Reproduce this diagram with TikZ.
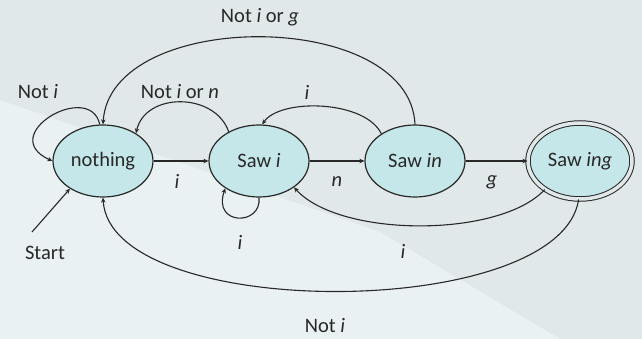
\documentclass[tikz,border=0pt]{standalone}
\usepackage{fontspec}
\setmainfont{Carlito}
\usetikzlibrary{arrows.meta,shapes.geometric}
\definecolor{bgc}{RGB}{225,232,234}
\definecolor{bgl}{RGB}{233,241,243}
\definecolor{nodefill}{RGB}{198,231,233}
\definecolor{ink}{RGB}{40,40,40}
\begin{document}
\begin{tikzpicture}[x=1pt,y=-1pt,
  every node/.style={font=\fontsize{20.5}{24}\selectfont, text=ink},
  state/.style={ellipse, draw=ink, line width=1.2pt, fill=nodefill, minimum width=100pt, minimum height=72pt, inner sep=0pt},
  final/.style={state, minimum width=104pt, minimum height=76pt, double=bgc, double distance=3.5pt, line width=1pt},
  edge/.style={draw=ink, line width=1.1pt, -{Stealth[length=5pt,width=4.5pt]}},
  lbl/.style={inner sep=1pt}]
\useasboundingbox (0,0) rectangle (642,339);
\fill[bgc] (0,0) rectangle (642,339);
\fill[bgl] (0,100) -- (380,232) -- (560,339) -- (0,339) -- cycle;
\node[state] (n0) at (103,161) {nothing};
\node[state] (n1) at (259,161) {Saw \textit{i}};
\node[state] (n2) at (415,161) {Saw \textit{in}};
\node[final] (n3) at (580,161) {Saw \textit{ing}};
\coordinate (st) at (32,232);
% straight edges
\draw[edge] (n0) -- (n1);
\draw[edge] (n1) -- (n2);
\draw[edge] (n2) -- (n3);
\draw[edge] (st) -- (n0.220);
% loops and back edges
\draw[edge] (n0.95) .. controls (90,80) and (-5,135) .. (n0.180);
\draw[edge] (n1.136) .. controls (215,92) and (145,92) .. (n0.40);
\draw[edge] (n2.141) .. controls (365,100) and (280,98) .. (n1.85);
\draw[edge] (n2.90) .. controls (410,8) and (110,8) .. (n0.90);
\draw[edge] (n1.270) .. controls (262,226) and (212,226) .. (n1.219);
\draw[edge] (n3.219) .. controls (500,238) and (340,238) .. (n1.323);
\draw[edge] (n3.268) .. controls (560,322) and (110,322) .. (n0.270);
% labels
\node[lbl] (l1) at (38,92) {Not \textit{i}};
\node[lbl] (l2) at (180,92) {Not \textit{i} or \textit{n}};
\node[lbl] (l3) at (307,92) {\textit{i}};
\node[lbl] (l4) at (260,17) {Not \textit{i} or \textit{g}};
\node[lbl] (l5) at (177,181) {\textit{i}};
\node[lbl] (l6) at (337,182) {\textit{n}};
\node[lbl] (l7) at (492,182) {\textit{g}};
\node[lbl] (l8) at (240,242) {\textit{i}};
\node[lbl] (l9) at (403,251) {\textit{i}};
\node[lbl] (l10) at (325,326) {Not \textit{i}};
\node[lbl] (l11) at (45,253) {Start};
\end{tikzpicture}
\end{document}
